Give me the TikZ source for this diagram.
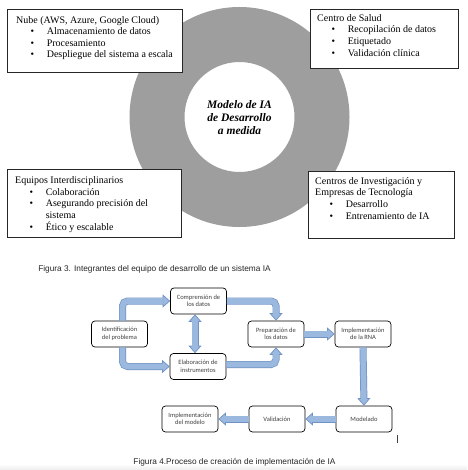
\documentclass[tikz,border=0pt]{standalone}
\usepackage{fontspec}
\setmainfont{Liberation Serif}
\newfontfamily\flowfont{Carlito}
\newfontfamily\capfont{Liberation Sans}
\usetikzlibrary{arrows.meta,shadows}
\definecolor{ringgray}{RGB}{158,158,158}
\definecolor{arrowfill}{RGB}{155,184,222}
\definecolor{arrowborder}{RGB}{112,146,196}
\newcommand\bl{\hspace*{14.3pt}\makebox[16.3pt][l]{\textbullet}}
\newcommand\blockarr[1]{\draw[arrowout] #1; \draw[arrowin] #1;}
\begin{document}
\begin{tikzpicture}[x=1pt,y=-1pt,
  infobox/.style={draw=black!85, line width=0.8pt, fill=white, inner sep=0pt,
    drop shadow={shadow xshift=1.3pt, shadow yshift=-1.3pt, fill=black!45, opacity=1}},
  tl/.style={anchor=base west, inner sep=0pt, font=\fontsize{10}{12}\selectfont},
  flowbox/.style={draw=black, line width=0.7pt, rounded corners=3.5pt, fill=white,
    minimum width=56pt, minimum height=26pt, inner sep=1pt, align=center, text=black!75,
    font=\flowfont\fontsize{6.5}{7.5}\selectfont},
  arrowout/.style={draw=arrowborder, line width=7pt, rounded corners=5pt,
    -{Triangle[length=7.5pt,width=13pt,line width=0.7pt,fill=arrowfill]}},
  arrowin/.style={draw=arrowfill, line width=5.6pt, rounded corners=5pt, shorten >=6.6pt},
  capstyle/.style={inner sep=0pt, text=black!85, font=\capfont\fontsize{8.3}{10}\selectfont}
]
\useasboundingbox (0,0) rectangle (467,470);
\fill[white] (0,0) rectangle (467,470);
\shade[top color=white,bottom color=black!7] (0,464) rectangle (467,470);

% ring
\fill[ringgray, even odd rule] (239.5,117) circle[radius=110pt] (239.5,117) circle[radius=55pt];
\node[inner sep=0pt, align=center, font=\bfseries\itshape\fontsize{11.5}{13.3}\selectfont] (core) at (239.5,117.5)
  {Modelo de IA\\de Desarrollo\\a medida};

% info boxes
\node[infobox, minimum width=175pt, minimum height=63pt] (box1) at (94.5,40.5) {};
\node[infobox, minimum width=148pt, minimum height=59pt] (box2) at (384,38.5) {};
\node[infobox, minimum width=174pt, minimum height=68pt] (box3) at (94,203) {};
\node[infobox, minimum width=146pt, minimum height=67pt] (box4) at (381,204.5) {};

\node[tl] (b1a) at (16,23.5) {Nube (AWS, Azure, Google Cloud)};
\node[tl] (b1b) at (16,35) {\bl Almacenamiento de datos};
\node[tl] (b1c) at (16,46.4) {\bl Procesamiento};
\node[tl] (b1d) at (16,57.8) {\bl Despliegue del sistema a escala};

\node[tl] (b2a) at (317,21.5) {Centro de Salud};
\node[tl] (b2b) at (317,33) {\bl Recopilación de datos};
\node[tl] (b2c) at (317,44.6) {\bl Etiquetado};
\node[tl] (b2d) at (317,56.2) {\bl Validación clínica};

\node[tl] (b3a) at (15,183.3) {Equipos Interdisciplinarios};
\node[tl] (b3b) at (15,195) {\bl Colaboración};
\node[tl] (b3c) at (15,206.7) {\bl Asegurando precisión del};
\node[tl] (b3d) at (15,218.4) {\hspace*{30.6pt}sistema};
\node[tl] (b3e) at (15,230.1) {\bl Ético y escalable};

\node[tl] (b4a) at (315,184) {Centros de Investigación y};
\node[tl] (b4b) at (315,195.5) {Empresas de Tecnología};
\node[tl] (b4c) at (315,207.2) {\bl Desarrollo};
\node[tl] (b4d) at (315,219) {\bl Entrenamiento de IA};

\node[capstyle] (cap3) at (154.5,269) {Figura 3. Integrantes del equipo de desarrollo de un sistema IA};

% flowchart
\node[flowbox] (ident) at (119.5,334) {Identificación\\del problema};
\node[flowbox] (comp) at (198.5,301) {Comprensión de\\los datos};
\node[flowbox] (elab) at (198,366.5) {Elaboración de\\instrumentos};
\node[flowbox] (prep) at (276,334) {Preparación de\\los datos};
\node[flowbox] (impl) at (363,334) {Implementación\\de la RNA};
\node[flowbox] (model) at (364,419) {Modelado};
\node[flowbox] (valid) at (277,419) {Validación};
\node[flowbox] (implmod) at (190,419) {Implementación\\del modelo};

\blockarr{([xshift=3pt]ident.north) |- (comp.west)}
\blockarr{([xshift=3pt]ident.south) |- (elab.west)}
\blockarr{(comp.east) -| (prep.north)}
\blockarr{([yshift=2pt]elab.east) -| (prep.south)}
\blockarr{(prep.east) -- (impl.west)}
\blockarr{(impl.south) -- (model.north)}
\blockarr{(model.west) -- (valid.east)}
\blockarr{(valid.west) -- (implmod.east)}
\draw[draw=arrowborder, line width=7pt,
  {Triangle[length=7.5pt,width=13pt,line width=0.7pt,fill=arrowfill]}-{Triangle[length=7.5pt,width=13pt,line width=0.7pt,fill=arrowfill]}]
  ([xshift=-3.5pt]comp.south) -- ([xshift=-3pt]elab.north);
\draw[draw=arrowfill, line width=5.6pt, shorten >=6.6pt, shorten <=6.6pt]
  ([xshift=-3.5pt]comp.south) -- ([xshift=-3pt]elab.north);

\coordinate (barTop) at (397,435);
\coordinate (barBot) at (397,443);
\draw[line width=0.9pt, black!75] (barTop) -- (barBot);

\node[capstyle] (cap4) at (234.5,462) {Figura 4.Proceso de creación de implementación de IA};
\end{tikzpicture}
\end{document}
